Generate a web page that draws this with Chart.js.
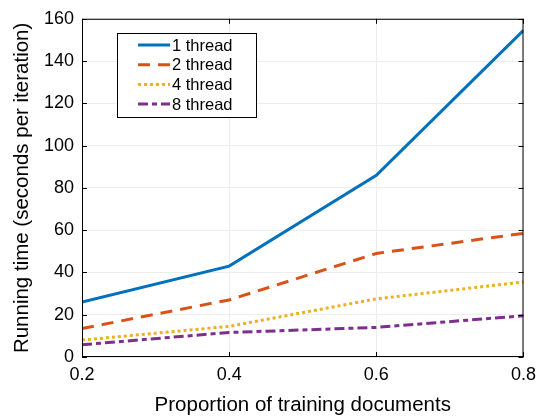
<!DOCTYPE html>
<html lang="en">
<head>
  <meta charset="UTF-8">
  <title>Running time vs training documents</title>
  <script src="https://cdn.jsdelivr.net/npm/chart.js"></script>
  <style>
    html, body { margin: 0; padding: 0; background: #fff; }
    #wrap { width: 543px; height: 419px; }
  </style>
</head>
<body>
  <div id="wrap"><canvas id="timeChart"></canvas></div>

  <script>
    const proportions = [0.2, 0.4, 0.6, 0.8];
    const thread1 = [26, 43, 86, 154.5];
    const thread2 = [13.5, 27, 49, 58.5];
    const thread4 = [8, 14.5, 27.5, 35.5];
    const thread8 = [5.8, 11.6, 14, 19.5];
    const seriesNames = ['1 thread', '2 thread', '4 thread', '8 thread'];

    const font = '"Liberation Sans", Arial, sans-serif';

    function pts(vals) {
      return proportions.map((x, i) => ({ x: x, y: vals[i] }));
    }

    // box, inward ticks and the legend, matlab style
    const boxPlugin = {
      id: 'box',
      afterDraw(chart) {
        const ctx = chart.ctx;
        const a = chart.chartArea;
        const xs = chart.scales.x, ys = chart.scales.y;
        ctx.save();
        ctx.strokeStyle = '#000';
        ctx.lineWidth = 1;
        ctx.strokeRect(a.left + 0.5, a.top + 0.5, a.right - a.left - 1, a.bottom - a.top - 1);
        ctx.beginPath();
        xs.ticks.forEach(t => {
          const px = Math.round(xs.getPixelForValue(t.value)) + 0.5;
          ctx.moveTo(px, a.bottom); ctx.lineTo(px, a.bottom - 5);
          ctx.moveTo(px, a.top); ctx.lineTo(px, a.top + 5);
        });
        ys.ticks.forEach(t => {
          const py = Math.round(ys.getPixelForValue(t.value)) + 0.5;
          ctx.moveTo(a.left, py); ctx.lineTo(a.left + 5, py);
          ctx.moveTo(a.right, py); ctx.lineTo(a.right - 5, py);
        });
        ctx.stroke();

        // legend
        const lx = 117, ly = 33, lw = 139, lh = 84;
        ctx.fillStyle = '#fff';
        ctx.fillRect(lx, ly, lw, lh);
        ctx.strokeRect(lx + 0.5, ly + 0.5, lw, lh);
        ctx.font = '16.5px ' + font;
        ctx.textBaseline = 'middle';
        chart.data.datasets.forEach((ds, i) => {
          const y = ly + 12 + i * 19.7;
          ctx.beginPath();
          ctx.strokeStyle = ds.borderColor;
          ctx.lineWidth = ds.borderWidth;
          ctx.setLineDash(ds.borderDash || []);
          ctx.moveTo(138, y); ctx.lineTo(170, y);
          ctx.stroke();
          ctx.setLineDash([]);
          ctx.fillStyle = '#000';
          ctx.fillText(ds.label, 172, y + 1);
        });
        ctx.restore();
      }
    };

    new Chart(timeChart, {
      type: 'line',
      data: {
        datasets: [
          { label: seriesNames[0], data: pts(thread1), borderColor: '#0072BD', borderWidth: 3 },
          { label: seriesNames[1], data: pts(thread2), borderColor: '#D95319', borderWidth: 3, borderDash: [12, 8] },
          { label: seriesNames[2], data: pts(thread4), borderColor: '#EDB120', borderWidth: 3, borderDash: [3, 3] },
          { label: seriesNames[3], data: pts(thread8), borderColor: '#7E2F8E', borderWidth: 3, borderDash: [10, 4, 5, 4] }
        ]
      },
      options: {
        responsive: true,
        maintainAspectRatio: false,
        animation: false,
        elements: { point: { radius: 0 }, line: { tension: 0, fill: false } },
        layout: { padding: { left: 0, right: 17, top: 13, bottom: 0 } },
        plugins: { legend: { display: false }, tooltip: { enabled: false } },
        scales: {
          x: {
            type: 'linear',
            min: 0.2, max: 0.8,
            afterFit(s) { s.height = 62; },
            ticks: {
              stepSize: 0.2, color: '#000', padding: 7,
              font: { family: font, size: 18 },
              callback: v => v.toFixed(1)
            },
            grid: { color: '#ededed', drawTicks: false },
            border: { display: false },
            title: {
              display: true, text: 'Proportion of training documents',
              color: '#000', font: { family: font, size: 20.5 },
              padding: { top: 8, bottom: 1 }
            }
          },
          y: {
            min: 0, max: 160,
            afterFit(s) { s.width = 82; },
            ticks: {
              stepSize: 20, color: '#000', padding: 8,
              font: { family: font, size: 18 }
            },
            grid: { color: '#ededed', drawTicks: false },
            border: { display: false },
            title: {
              display: true, text: 'Running time (seconds per iteration)',
              color: '#000', font: { family: font, size: 20.5 },
              padding: { bottom: 0, top: 10 }
            }
          }
        }
      },
      plugins: [boxPlugin]
    });
  </script>
</body>
</html>
